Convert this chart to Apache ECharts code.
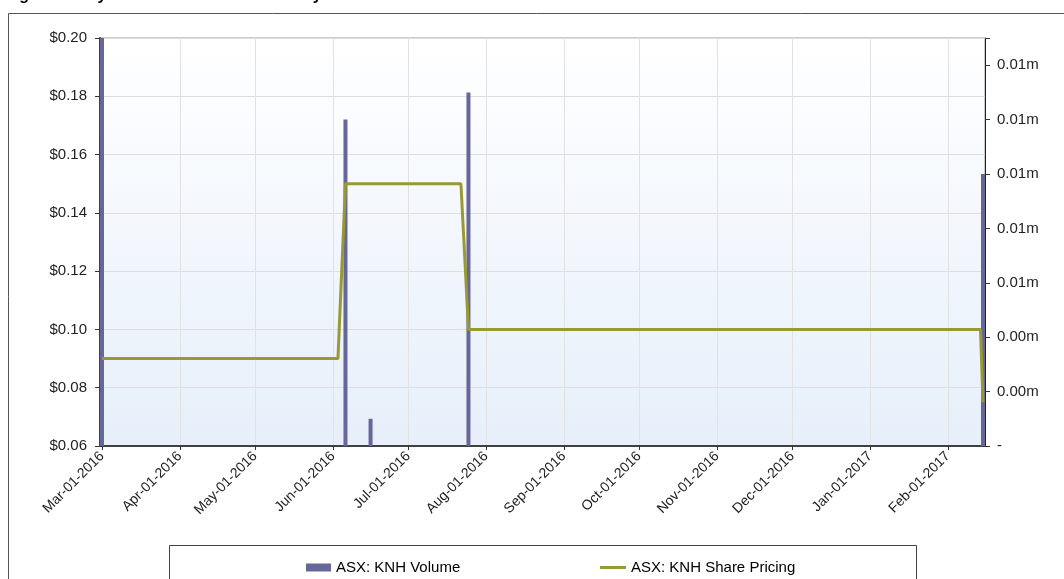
<!DOCTYPE html>
<html>
<head>
<meta charset="utf-8">
<script src="https://cdn.jsdelivr.net/npm/echarts@6/dist/echarts.min.js"></script>
<style>
html,body{margin:0;padding:0;background:#fff;}
#chart{width:1064px;height:579px;}
</style>
</head>
<body>
<div id="chart"></div>
<script>
// ---- data ----
const volumeDates  = ['2016-03-01', '2016-06-06', '2016-06-16', '2016-07-25', '2017-02-15'];
const volumeValues = [15000, 12000, 1000, 13000, 10000];
const priceDates   = ['2016-03-01', '2016-06-03', '2016-06-06', '2016-07-22', '2016-07-25', '2017-02-14', '2017-02-15'];
const priceValues  = [0.09, 0.09, 0.15, 0.15, 0.10, 0.10, 0.075];
const xMin = '2016-03-01';
const xMax = '2017-02-15';
const seriesNames = ['ASX: KNH Volume', 'ASX: KNH Share Pricing'];
const titleText = 'Figure 1: Key Statistics and Trade History';
const monthNames = ['Jan','Feb','Mar','Apr','May','Jun','Jul','Aug','Sep','Oct','Nov','Dec'];

const chart = echarts.init(document.getElementById('chart'));
const FONT = 'Liberation Sans, Arial, sans-serif';
const FS = 15;

function fmtDate(v) {
  const d = new Date(v);
  if (d.getDate() !== 1) return '';
  return monthNames[d.getMonth()] + '-01-' + d.getFullYear();
}

const option = {
  animation: false,
  backgroundColor: '#ffffff',
  title: {
    text: titleText,
    left: 0, top: -17,
    textStyle: {fontFamily: FONT, fontSize: 16, fontWeight: 'bold', color: '#000'}
  },
  graphic: [
    {type: 'rect', shape: {x: 8.5, y: 13.5, width: 1100, height: 700}, style: {fill: 'none', stroke: '#555', lineWidth: 1}, silent: true, z: -1},
    {type: 'rect', shape: {x: 169.5, y: 545.5, width: 747, height: 40}, style: {fill: '#fff', stroke: '#444', lineWidth: 1}, silent: true, z: -1}
  ],
  legend: [
    {
      data: [{name: seriesNames[0], icon: 'rect'}],
      left: 301, top: 555,
      itemWidth: 25, itemHeight: 8, itemGap: 5, itemTextGap: 2,
      textStyle: {fontFamily: FONT, fontSize: FS, color: '#000'}
    },
    {
      data: [{name: seriesNames[1], icon: 'rect'}],
      left: 595, top: 555,
      itemWidth: 26, itemHeight: 3, itemTextGap: 2,
      textStyle: {fontFamily: FONT, fontSize: FS, color: '#000'}
    }
  ],
  grid: {
    left: 100, right: 79, top: 38, bottom: 133,
    show: true,
    borderColor: '#999', borderWidth: 1,
    backgroundColor: new echarts.graphic.LinearGradient(0, 0, 0, 1, [
      {offset: 0, color: '#ffffff'},
      {offset: 1, color: '#e6effa'}
    ])
  },
  xAxis: {
    type: 'time',
    min: xMin, max: xMax,
    splitNumber: 12,
    minInterval: 28 * 86400000,
    maxInterval: 31 * 86400000,
    axisLine: {show: true, lineStyle: {color: '#404040', width: 2}},
    axisTick: {show: true, length: 4, lineStyle: {color: '#333'}},
    axisLabel: {
      rotate: 45, margin: 8, color: '#222', fontFamily: FONT, fontSize: 14,
      formatter: fmtDate, hideOverlap: false, showMaxLabel: false
    },
    splitLine: {show: true, lineStyle: {color: '#e2e2e2', width: 1}}
  },
  yAxis: [
    {
      type: 'value', min: 0.06, max: 0.20, interval: 0.02, position: 'left',
      axisLine: {show: true, lineStyle: {color: '#404040', width: 2}},
      axisTick: {show: true, length: 5, lineStyle: {color: '#333'}},
      axisLabel: {margin: 13, color: '#222', fontFamily: FONT, fontSize: FS,
        formatter: v => '$' + v.toFixed(2)},
      splitLine: {show: true, lineStyle: {color: '#dddddd', width: 1}}
    },
    {
      type: 'value', min: 0, max: 15000, interval: 2000, position: 'right',
      axisLine: {show: true, lineStyle: {color: '#222', width: 1}},
      axisTick: {show: true, length: 5, inside: false, lineStyle: {color: '#333'}},
      axisLabel: {margin: 12, color: '#222', fontFamily: FONT, fontSize: FS,
        formatter: v => (v % 2000 !== 0) ? '' : (v === 0 ? '-' : (v / 1e6).toFixed(2) + 'm')},
      splitLine: {show: false}
    }
  ],
  series: [
    {
      name: seriesNames[0], type: 'bar', yAxisIndex: 1,
      data: volumeDates.map((d, i) => [d, volumeValues[i]]),
      barWidth: 4, clip: true,
      itemStyle: {color: '#666699'}
    },
    {
      name: seriesNames[1], type: 'line', yAxisIndex: 0,
      data: priceDates.map((d, i) => [d, priceValues[i]]),
      symbol: 'none', clip: true,
      lineStyle: {color: '#999933', width: 3},
      itemStyle: {color: '#999933'}
    }
  ]
};
chart.setOption(option);
</script>
</body>
</html>
